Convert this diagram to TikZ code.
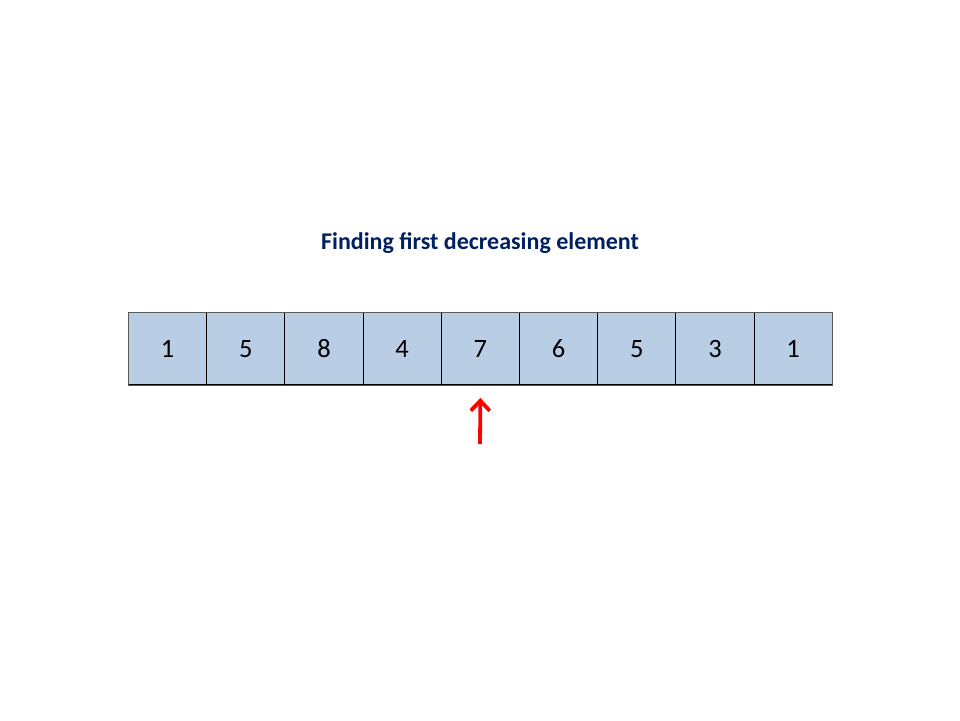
\documentclass[tikz,border=0pt]{standalone}
\usepackage{fontspec}
\setmainfont{Carlito}
\usetikzlibrary{arrows.meta}
\definecolor{cellfill}{HTML}{B9CDE5}
\definecolor{titleblue}{HTML}{002060}
\begin{document}
\begin{tikzpicture}[x=1pt,y=-1pt,
  cell/.style={draw=black, line width=1pt, fill=cellfill, minimum width=78.2pt, minimum height=72pt, inner sep=0pt, text height=17pt, text depth=0pt, font=\fontsize{26.5}{30}\selectfont, anchor=north west},
  pointer/.style={draw=red, line width=3.8pt, -{Straight Barb[length=10pt,width=19pt,line width=3.8pt]}}]
\useasboundingbox (0,0) rectangle (960,720);
\node[font=\fontsize{24}{28}\bfseries\selectfont, text=titleblue] (title) at (480,243) {Finding first decreasing element};
\foreach \v [count=\i from 0] in {1,5,8,4,7,6,5,3,1} {
  \node[cell] (c\i) at ({128+\i*78.2},312) {\v};
}
\draw[draw=black!65, line width=1pt] (c0.north west) rectangle (c8.south east);
\coordinate (tail) at (480,444);
\draw[pointer] (tail) -- ([yshift=-13pt]c4.south);
\end{tikzpicture}
\end{document}
